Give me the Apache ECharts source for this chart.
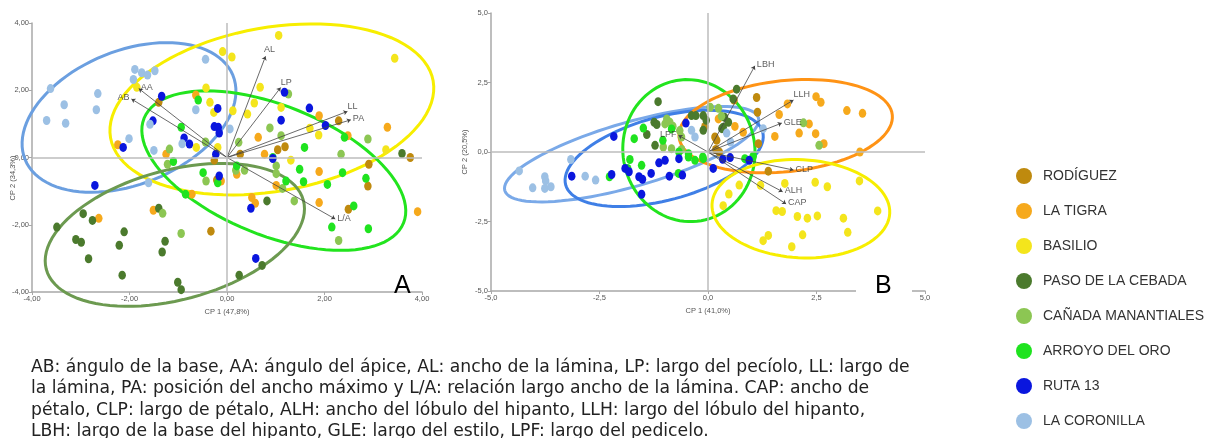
<!DOCTYPE html>
<html>
<head>
<meta charset="utf-8">
<script src="https://cdn.jsdelivr.net/npm/echarts@6/dist/echarts.min.js"></script>
<style>
  html, body { margin: 0; padding: 0; background: #fff; }
  #main { width: 1215px; height: 438px; }
</style>
</head>
<body>
<div id="main"></div>
<script>
// grupos (orden de la leyenda)
var groups = ['RODÍGUEZ', 'LA TIGRA', 'BASILIO', 'PASO DE LA CEBADA', 'CAÑADA MANANTIALES', 'ARROYO DEL ORO', 'RUTA 13', 'LA CORONILLA'];

// ---- Gráfico A: hojas (CP1 x CP2) ----
var rodriguezA = [[-1.40,1.64],[0.27,0.10],[1.04,0.23],[1.19,0.32],[2.29,1.09],[2.91,-0.20],[2.89,-0.85],[2.49,-1.54],[3.76,0.0],[-0.33,-2.19],[-0.26,-0.08],[-0.21,-0.67]];
var tigraA = [[-0.64,1.86],[-2.24,0.38],[-1.25,0.10],[-0.12,-0.70],[0.20,-0.50],[0.64,0.60],[0.77,0.10],[1.01,-0.83],[0.51,-1.19],[0.58,-1.36],[1.89,-0.42],[1.89,-1.34],[1.89,1.24],[2.48,0.65],[3.29,0.90],[3.91,-1.61],[-0.72,-1.09],[-1.51,-1.57],[-2.63,-1.81]];
var basilioA = [[1.06,3.63],[-0.09,3.15],[0.10,2.99],[3.44,2.95],[0.68,2.09],[0.56,1.62],[1.11,1.49],[0.42,1.29],[0.12,1.39],[-0.43,2.07],[-0.35,1.64],[-0.27,1.34],[-1.85,2.09],[-0.63,0.30],[-0.19,0.30],[1.70,0.87],[1.88,0.67],[1.31,-0.08],[3.26,0.23]];
var pasoA = [[-3.49,-2.07],[-2.95,-1.67],[-2.76,-1.87],[-3.10,-2.44],[-2.99,-2.52],[-2.84,-3.01],[-2.21,-2.61],[-2.11,-2.21],[-2.15,-3.50],[-1.40,-1.51],[-1.27,-2.49],[-1.33,-2.81],[-1.01,-3.71],[-0.94,-3.93],[0.25,-3.50],[0.72,-3.21],[0.82,-1.29],[3.59,0.12]];
var canadaA = [[1.26,1.89],[0.88,0.88],[1.11,0.65],[0.24,0.45],[-0.44,0.46],[-1.18,0.25],[-1.22,-0.20],[-0.43,-0.70],[0.36,-0.38],[1.01,-0.25],[1.01,-0.48],[1.14,-0.92],[1.38,-1.29],[2.34,0.10],[2.89,0.55],[-1.32,-1.66],[-0.94,-2.26],[2.29,-2.47],[0.18,-0.38]];
var arroyoA = [[-0.59,1.71],[-0.94,0.90],[1.59,0.30],[1.49,-0.35],[1.57,-0.72],[2.06,-0.80],[2.41,0.60],[2.37,-0.45],[2.85,-0.62],[2.60,-1.44],[2.90,-2.12],[2.15,-2.07],[-0.49,-0.45],[-0.19,-0.75],[-0.85,-1.09],[-1.10,-0.12],[0.20,-0.25],[0.94,0.0],[1.21,-0.70]];
var rutaA = [[-1.34,1.82],[-1.52,1.09],[-2.13,0.30],[-2.71,-0.83],[-0.88,0.58],[-0.77,0.40],[-0.19,1.46],[-0.26,0.92],[-0.18,0.90],[-0.16,0.73],[-0.23,0.10],[-0.16,-0.55],[1.18,1.94],[1.11,1.11],[1.69,1.47],[2.02,0.95],[0.94,-0.03],[0.49,-1.51],[0.59,-3.00]];
var coronillaA = [[-3.62,2.05],[-3.34,1.57],[-2.65,1.90],[-2.68,1.42],[-3.70,1.10],[-3.31,1.02],[-1.89,2.62],[-1.75,2.52],[-1.63,2.45],[-1.48,2.58],[-1.92,2.32],[-0.44,2.92],[-0.64,1.42],[-1.58,0.99],[-2.01,0.56],[-1.50,0.21],[-0.92,0.41],[-1.61,-0.75],[0.06,0.85]];
var pointsA = [rodriguezA, tigraA, basilioA, pasoA, canadaA, arroyoA, rutaA, coronillaA];

// elipses A: [centro x, centro y, semieje mayor, semieje menor, ángulo°]
var ellipseCoronillaA = [-2.01, 1.19, 2.30, 1.37, 22];
var ellipseBasilioA = [0.92, 1.43, 3.36, 1.68, 10];
var ellipseArroyoA = [0.96, -0.39, 2.87, 1.33, -22];
var ellipsePasoA = [-1.07, -2.30, 2.73, 1.33, 15];
var ellipsesA = [ellipseCoronillaA, ellipseBasilioA, ellipseArroyoA, ellipsePasoA];

// vectores de las variables A
var loadingsA = [['AL',0.79,3.01],['LP',1.10,2.08],['LL',2.47,1.37],['PA',2.54,1.12],['L/A',2.22,-1.83],['AA',-1.81,2.05],['AB',-1.96,1.74]];
var ticksA = [-4, -2, 0, 2, 4];

// ---- Gráfico B: flores (CP1 x CP2) ----
var rodriguezB = [[1.12,1.96],[1.14,1.43],[0.60,1.87],[-0.07,0.92],[0.16,0.54],[0.20,0.42],[0.18,0.09],[0.26,0.0],[1.16,0.30],[1.39,-0.69]];
var tigraB = [[1.83,1.73],[2.49,1.99],[2.60,1.79],[3.20,1.49],[3.56,1.39],[1.64,1.35],[2.10,0.68],[2.33,1.01],[2.48,0.66],[2.67,0.30],[1.54,0.56],[0.81,0.71],[3.50,0.00],[0.24,1.19],[0.62,0.92]];
var basilioB = [[0.72,-1.19],[0.48,-1.51],[0.35,-1.93],[1.21,-1.20],[1.77,-1.13],[2.47,-1.09],[2.75,-1.25],[3.49,-1.04],[1.57,-2.11],[1.71,-2.14],[2.06,-2.32],[2.29,-2.38],[2.52,-2.30],[3.12,-2.38],[3.91,-2.12],[3.22,-2.89],[2.18,-2.98],[1.39,-3.00],[1.27,-3.19],[1.93,-3.41]];
var pasoB = [[-1.15,1.81],[-1.24,1.07],[-1.18,0.99],[-1.41,0.63],[-1.22,0.24],[-0.38,1.31],[-0.28,1.31],[-0.11,1.31],[-0.11,0.78],[0.38,1.25],[0.35,0.89],[0.66,2.26],[0.58,1.91],[0.47,1.07],[0.32,0.84],[-0.04,1.14]];
var canadaB = [[-0.99,1.01],[-0.88,1.07],[-0.81,0.93],[-0.95,1.19],[-0.65,0.77],[-0.61,0.54],[-0.84,0.12],[-0.61,0.09],[-1.03,0.18],[0.05,1.61],[0.24,1.57],[0.31,1.29],[2.20,1.05],[2.56,0.24]];
var arroyoB = [[-1.70,0.48],[-1.49,0.86],[-1.80,-0.27],[-1.85,-0.59],[-1.53,-0.48],[-2.27,-0.89],[-0.68,-0.77],[-1.04,0.42],[-0.45,-0.18],[-0.30,-0.30],[-0.11,-0.24],[-0.84,0.83],[-0.67,0.0],[-0.45,-0.06],[-0.12,-0.18],[0.85,-0.24],[1.04,-0.15]];
var rutaB = [[-2.17,0.56],[-3.14,-0.87],[-2.22,-0.81],[-1.91,-0.59],[-1.82,-0.71],[-1.59,-0.89],[-1.51,-0.98],[-1.31,-0.77],[-1.13,-0.39],[-0.99,-0.30],[-0.67,-0.24],[-0.89,-0.87],[-0.59,-0.83],[-0.51,1.04],[-1.53,-1.52],[0.12,-0.59],[0.51,-0.20],[0.95,-0.30],[0.34,-0.26]];
var coronillaB = [[-4.35,-0.68],[-4.04,-1.29],[-3.76,-0.89],[-3.74,-1.04],[-3.76,-1.31],[-3.62,-1.25],[-2.83,-0.87],[-2.59,-1.01],[-3.16,-0.27],[-0.30,0.54],[-0.38,0.78],[0.43,0.68],[1.27,0.84],[0.52,0.36]];
var pointsB = [rodriguezB, tigraB, basilioB, pasoB, canadaB, arroyoB, rutaB, coronillaB];

var ellipseCoronillaB = [-1.76, -0.08, 3.04, 0.74, 16];
var ellipseRutaB = [-1.01, -0.23, 2.35, 0.96, 15];
var ellipseArroyoB = [-0.44, 0.05, 1.64, 1.52, 100];
var ellipseTigraB = [1.79, 0.93, 2.47, 1.05, 6];
var ellipseBasilioB = [2.14, -2.04, 2.05, 1.13, -3];
var ellipsesB = [ellipseCoronillaB, ellipseRutaB, ellipseArroyoB, ellipseTigraB, ellipseBasilioB];

var loadingsB = [['LBH',1.08,3.10],['LLH',1.97,1.87],['GLE',1.70,1.04],['CLP',1.97,-0.65],['ALH',1.72,-1.43],['CAP',1.80,-1.87],['LPF',-0.68,0.60]];
var ticksB = [-5, -2.5, 0, 2.5, 5];

var caption = [
  'AB: ángulo de la base, AA: ángulo del ápice, AL: ancho de la lámina, LP: largo del pecíolo, LL: largo de',
  'la lámina, PA: posición del ancho máximo y L/A: relación largo ancho de la lámina. CAP: ancho de',
  'pétalo, CLP: largo de pétalo, ALH: ancho del lóbulo del hipanto, LLH: largo del lóbulo del hipanto,',
  'LBH: largo de la base del hipanto, GLE: largo del estilo, LPF: largo del pedicelo.'
];

// colores
var groupColors = ['#bf8a0e', '#f6a91c', '#f4e51c', '#4b7a2d', '#8cc653', '#1fe31f', '#0a16de', '#9cc0e4'];
var ellipseColorsA = ['#6b9fe0', '#f7ee00', '#22e41e', '#6c9a50'];
var ellipseColorsB = ['#7aa9e8', '#3f7fe6', '#22e41e', '#ff9315', '#f7ee00'];
var leftLabels = ['AB', 'LPF'];
var raisedLabels = ['LP', 'LLH', 'LL'];

var chart = echarts.init(document.getElementById('main'));

function ellipseRenderer(colors) {
  return function (params, api) {
    var c = api.coord([api.value(0), api.value(1)]);
    var k = api.size([1, 1])[0];
    var a = api.value(2) * k, b = api.value(3) * k;
    var t = api.value(4) * Math.PI / 180;
    var pts = [];
    for (var i = 0; i < 96; i++) {
      var s = i / 96 * Math.PI * 2;
      var ex = a * Math.cos(s), ey = b * Math.sin(s);
      pts.push([c[0] + ex * Math.cos(t) - ey * Math.sin(t), c[1] - (ex * Math.sin(t) + ey * Math.cos(t))]);
    }
    return {
      type: 'polygon',
      shape: { points: pts },
      style: { fill: 'none', stroke: colors[params.dataIndex], lineWidth: 3 }
    };
  };
}

function axisPair(idx, min, max, interval, digits, xname, yname) {
  var lab = function (v) { return v.toFixed(digits).replace('.', ','); };
  var common = {
    gridIndex: idx, min: min, max: max, interval: interval,
    axisLine: { onZero: false, lineStyle: { color: '#a8a8a8', width: 1.5 } },
    axisTick: { show: true, length: 3, lineStyle: { color: '#a8a8a8' } },
    splitLine: { show: false },
    axisLabel: { fontSize: 7.5, color: '#555', formatter: lab, margin: 3 },
    nameLocation: 'middle',
    nameTextStyle: { fontSize: 7.5, color: '#555' }
  };
  return [
    Object.assign({}, common, { type: 'value', name: xname, nameGap: 14 }),
    Object.assign({}, common, { type: 'value', name: yname, nameGap: 22 })
  ];
}

var axA = axisPair(0, ticksA[0], ticksA[4], 2, 2, 'CP 1 (47,8%)', '');
var axB = axisPair(1, ticksB[0], ticksB[4], 2.5, 1, 'CP 1 (41,0%)', 'CP 2 (20,5%)');

var series = [];
function addPlot(idx, ellipses, eColors, points, loadings) {
  series.push({
    type: 'custom', xAxisIndex: idx, yAxisIndex: idx, z: 2, silent: true,
    renderItem: ellipseRenderer(eColors),
    encode: { x: 0, y: 1 },
    data: ellipses,
    markLine: {
      silent: true, symbol: 'none', animation: false,
      label: { show: false },
      lineStyle: { color: '#bdbdbd', width: 1.5, type: 'solid' },
      data: [{ xAxis: 0 }, { yAxis: 0 }]
    }
  });
  points.forEach(function (pts, g) {
    series.push({
      type: 'scatter', name: groups[g], xAxisIndex: idx, yAxisIndex: idx, z: 3,
      symbolSize: [7.5, 9],
      itemStyle: { color: groupColors[g], opacity: 1 },
      data: pts
    });
  });
  series.push({
    type: 'lines', coordinateSystem: 'cartesian2d', xAxisIndex: idx, yAxisIndex: idx, z: 4,
    symbol: ['none', 'arrow'], symbolSize: 4,
    lineStyle: { color: '#444', width: 0.8, opacity: 1 },
    data: loadings.map(function (l) { return { coords: [[0, 0], [l[1], l[2]]] }; })
  });
  series.push({
    type: 'scatter', xAxisIndex: idx, yAxisIndex: idx, z: 5, symbolSize: 0, silent: true,
    data: loadings.map(function (l) {
      var left = leftLabels.indexOf(l[0]) >= 0;
      return {
        value: [l[1], l[2]], name: l[0],
        label: {
          show: true, formatter: l[0],
          position: l[0] === 'AL' ? 'top' : (left ? 'left' : 'right'),
          offset: l[0] === 'AL' ? [4, 0] : (raisedLabels.indexOf(l[0]) >= 0 ? [-2, -5] : [0, -1]),
          distance: 2, fontSize: 9, color: '#333', fontFamily: 'Liberation Sans, Arial, sans-serif'
        }
      };
    })
  });
}
addPlot(0, ellipsesA, ellipseColorsA, pointsA, loadingsA);
addPlot(1, ellipsesB, ellipseColorsB, pointsB, loadingsB);

var graphics = [
  { type: 'text', x: 13, y: 178, rotation: Math.PI / 2, z: 100,
    style: { text: 'CP 2 (34,3%)', fontSize: 7.5, fill: '#555', align: 'center', verticalAlign: 'middle', fontFamily: 'Liberation Sans, Arial, sans-serif' } },
  { type: 'text', left: 394, top: 274, z: 100, style: { text: 'A', fontSize: 25, fill: '#000', fontFamily: 'Liberation Sans, Arial, sans-serif' } },
  { type: 'rect', shape: { x: 856, y: 286, width: 56, height: 12 }, z: 99, style: { fill: '#fff' } },
  { type: 'text', left: 875, top: 274, z: 100, style: { text: 'B', fontSize: 25, fill: '#000', fontFamily: 'Liberation Sans, Arial, sans-serif' } }
];
caption.forEach(function (line, i) {
  graphics.push({
    type: 'text', left: 31, top: 359 + i * 21.5, z: 100,
    style: { text: line, fontSize: 17.2, fill: '#222', fontFamily: 'DejaVu Sans, sans-serif' }
  });
});

chart.setOption({
  animation: false,
  textStyle: { fontFamily: 'Liberation Sans, Arial, sans-serif' },
  grid: [
    { left: 32, top: 23, width: 390, height: 269, outerBoundsMode: 'none' },
    { left: 491, top: 13, width: 434, height: 278, outerBoundsMode: 'none' }
  ],
  xAxis: [axA[0], axB[0]],
  yAxis: [axA[1], axB[1]],
  legend: {
    orient: 'vertical', left: 1011, top: 163,
    data: groups, icon: 'circle', itemWidth: 28, itemHeight: 16, itemGap: 19,
    selectedMode: false,
    textStyle: { fontSize: 14, color: '#333', fontFamily: 'Liberation Sans, Arial, sans-serif' }
  },
  graphic: graphics,
  series: series
});
</script>
</body>
</html>
